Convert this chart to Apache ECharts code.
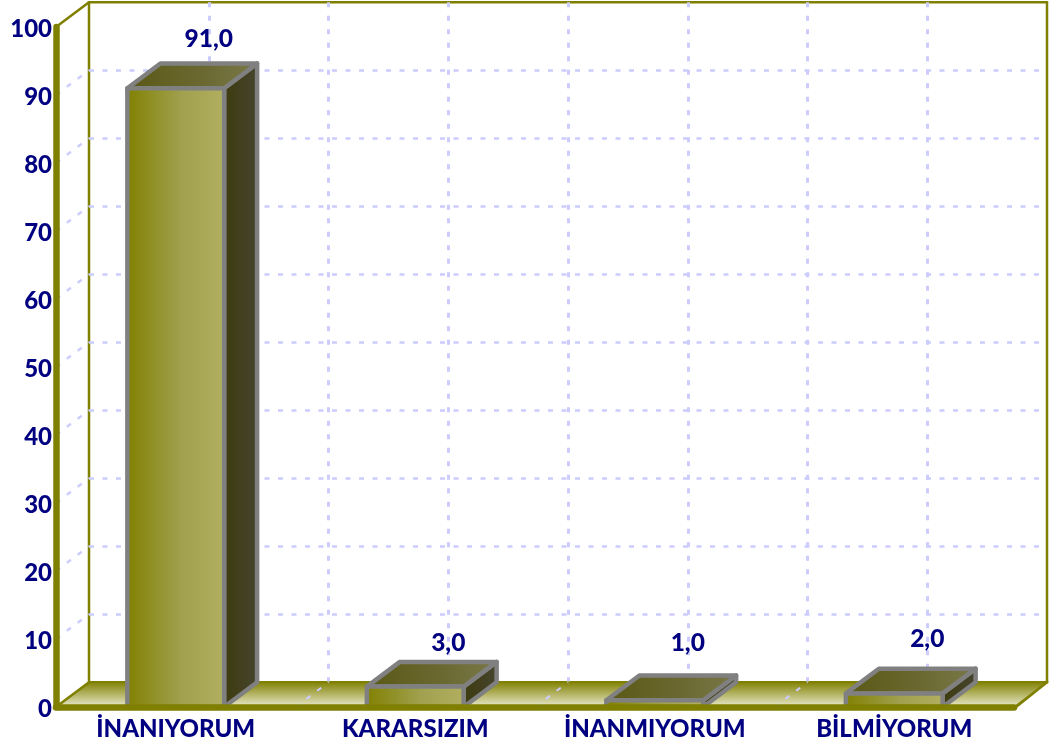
<!DOCTYPE html>
<html>
<head>
<meta charset="utf-8">
<style>html,body{margin:0;padding:0;background:#fff}#chart{width:1049px;height:746px}</style>
<script src="https://cdn.jsdelivr.net/npm/echarts@6/dist/echarts.min.js"></script>
</head>
<body>
<div id="chart"></div>
<script>
const categories = ['İNANIYORUM', 'KARARSIZIM', 'İNANMIYORUM', 'BİLMİYORUM'];
const values = [91, 3, 1, 2];
const yTicks = [10, 20, 30, 40, 50, 60, 70, 80, 90];
const bandEdges = [1, 2, 3];
// value labels sit at uneven heights in the original
const labelLift = [24, 19, 32, 30];

const depthX = 33;
const depthY = 24.7;
const olive = '#808000';
const lavender = '#ccccff';
const navy = '#000080';
const font = 'Lato';
const dash = [5, 8.5];

const chart = echarts.init(document.getElementById('chart'));

function hGrad(a, b, c) {
  return new echarts.graphic.LinearGradient(0, 0, 1, 0, [
    { offset: 0, color: a }, { offset: 0.55, color: b }, { offset: 1, color: c }
  ]);
}

// floor, plus the dashed lines that run from the front plane to the back wall
function renderFrame(params, api) {
  const cs = params.coordSys;
  const bottom = cs.y + cs.height;
  const children = [];
  const diag = (x, y, color, width) => ({
    type: 'line',
    shape: { x1: x, y1: y, x2: x + depthX, y2: y - depthY },
    style: { stroke: color, lineWidth: width, lineDash: dash, lineDashOffset: -13.6 }
  });
  const edge = (x1, y1, x2, y2) => ({
    type: 'line',
    shape: { x1, y1, x2, y2 },
    style: { stroke: olive, lineWidth: 2.5 }
  });
  children.push({
    type: 'polygon',
    shape: { points: [[cs.x, bottom], [cs.x + depthX, bottom - depthY], [cs.x + cs.width + depthX, bottom - depthY], [cs.x + cs.width, bottom]] },
    style: {
      fill: new echarts.graphic.LinearGradient(0, 0, 0, 1, [
        { offset: 0, color: olive }, { offset: 0.85, color: '#dcdcb4' }, { offset: 1, color: '#dcdcb4' }
      ]),
      stroke: olive, lineWidth: 1.5
    }
  });
  children.push(edge(cs.x, cs.y, cs.x + depthX, cs.y - depthY));
  children.push(edge(cs.x, bottom, cs.x + depthX, bottom - depthY));
  children.push(edge(cs.x + cs.width + 2, bottom, cs.x + cs.width + depthX, bottom - depthY));
  yTicks.forEach(t => {
    children.push(diag(cs.x, api.coord([0, t])[1], lavender, 2.5));
  });
  bandEdges.forEach(i => {
    children.push(diag(cs.x + cs.width * i / 4, bottom, lavender, 2));
  });
  return { type: 'group', children };
}

function renderBar(params, api) {
  const idx = api.value(0);
  const val = api.value(1);
  const top = api.coord([idx, val]);
  const base = api.coord([idx, 0]);
  const half = api.size([1, 0])[0] * 0.404 / 2;
  const l = top[0] - half;
  const r = top[0] + half;
  const t = top[1];
  const b = base[1];
  const border = { stroke: '#808080', lineWidth: 4.5, lineJoin: 'round' };
  return {
    type: 'group',
    children: [
      {
        type: 'polygon',
        shape: { points: [[r, t], [r + depthX, t - depthY], [r + depthX, b - depthY], [r, b]] },
        style: Object.assign({ fill: hGrad('#3d3b0c', '#424020', '#454530') }, border)
      },
      {
        type: 'polygon',
        shape: { points: [[l, t], [l + depthX, t - depthY], [r + depthX, t - depthY], [r, t]] },
        style: Object.assign({ fill: hGrad('#5a5814', '#6a6830', '#7a7848') }, border)
      },
      {
        type: 'polygon',
        shape: { points: [[l, t], [r, t], [r, b], [l, b]] },
        style: Object.assign({ fill: hGrad(olive, '#a0a04e', '#b2b060') }, border)
      },
      {
        type: 'text',
        style: {
          x: top[0] + depthX,
          y: t - depthY - labelLift[idx],
          text: val.toFixed(1).replace('.', ','),
          fill: navy,
          font: '900 24.5px ' + font,
          textAlign: 'center',
          textVerticalAlign: 'middle'
        }
      }
    ]
  };
}

const option = {
  animation: false,
  backgroundColor: '#fff',
  grid: [
    { left: 56, top: 27, width: 958, height: 680 },
    { left: 89, top: 2.3, width: 958, height: 680, show: true, borderColor: olive, borderWidth: 2.5 }
  ],
  xAxis: [
    {
      type: 'category',
      data: categories,
      gridIndex: 0,
      z: 10,
      axisLine: { lineStyle: { color: olive, width: 6.5, cap: 'round' } },
      axisTick: { show: false },
      axisLabel: { color: navy, fontFamily: font, fontWeight: 900, fontSize: 24, margin: 10 }
    },
    {
      type: 'value',
      gridIndex: 1,
      min: 0,
      max: 8,
      interval: 1,
      axisLine: { show: false },
      axisTick: { show: false },
      axisLabel: { show: false },
      splitLine: { show: true, showMinLine: false, showMaxLine: false, lineStyle: { color: lavender, width: 3, type: dash } }
    }
  ],
  yAxis: [
    {
      type: 'value',
      gridIndex: 0,
      min: 0,
      max: 100,
      interval: 10,
      z: 10,
      splitLine: { show: false },
      axisLine: { show: true, lineStyle: { color: olive, width: 6.5, cap: 'round' } },
      axisTick: { show: false },
      // top-aligned with a short line box, drops the digits 2px below the tick
      axisLabel: { color: navy, fontFamily: font, fontWeight: 900, fontSize: 24, margin: 4, verticalAlign: 'top', lineHeight: 4 }
    },
    {
      type: 'value',
      gridIndex: 1,
      min: 0,
      max: 100,
      interval: 10,
      axisLine: { show: false },
      axisTick: { show: false },
      axisLabel: { show: false },
      splitLine: { show: true, showMinLine: false, showMaxLine: false, lineStyle: { color: lavender, width: 2.5, type: dash } }
    }
  ],
  series: [
    {
      type: 'custom',
      xAxisIndex: 0,
      yAxisIndex: 0,
      z: 3,
      silent: true,
      renderItem: renderFrame,
      data: [[0, 0]]
    },
    {
      type: 'custom',
      xAxisIndex: 0,
      yAxisIndex: 0,
      z: 5,
      renderItem: renderBar,
      data: values.map((v, i) => [i, v])
    }
  ]
};

chart.setOption(option);
</script>
</body>
</html>
